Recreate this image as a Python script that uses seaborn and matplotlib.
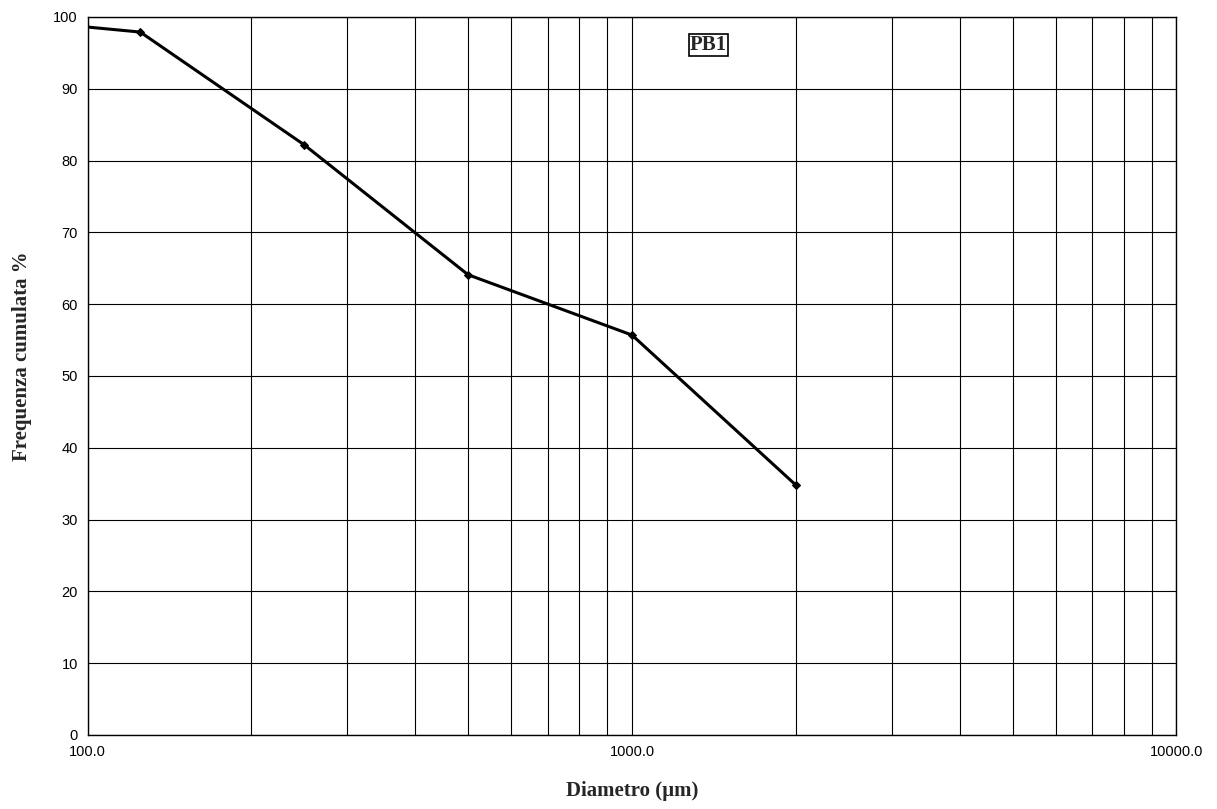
import pandas as pd
import numpy as np
import matplotlib
matplotlib.use("Agg")
import matplotlib.pyplot as plt
import seaborn as sns
from matplotlib.ticker import FixedLocator, FuncFormatter, NullFormatter

# cumulative grain size curve, sample PB1
diametro = [100, 125, 250, 500, 1000, 2000]
frequenza = [98.6, 97.9, 82.2, 64.1, 55.7, 34.8]

df = pd.DataFrame({"diametro": diametro, "frequenza": frequenza})

sns.set_style("white")

fig = plt.figure(figsize=(12.17, 8.09), dpi=100)
ax = fig.add_axes([0.0719, 0.0915, 0.8948, 0.8875])

# no marker on the first point (it sits on the axis edge in the original)
sns.lineplot(data=df, x="diametro", y="frequenza", ax=ax, color="black",
             linewidth=2.2, marker="D", markersize=4, markeredgecolor="black",
             markevery=list(range(1, len(diametro))))

ax.set_xscale("log")
ax.set_xlim(100, 10000)
ax.set_ylim(0, 100)

ax.xaxis.set_major_locator(FixedLocator([100, 1000, 10000]))
ax.xaxis.set_major_formatter(FuncFormatter(lambda v, p: f"{v:.1f}"))
minors = [m * d for d in (100, 1000) for m in range(2, 10)]
ax.xaxis.set_minor_locator(FixedLocator(minors))
ax.xaxis.set_minor_formatter(NullFormatter())
ax.set_yticks(range(0, 101, 10))

ax.grid(True, which="major", axis="both", color="black", linewidth=0.8)
ax.grid(True, which="minor", axis="x", color="black", linewidth=0.8)

for s in ax.spines.values():
    s.set_color("black")
    s.set_linewidth(1)

ax.tick_params(axis="both", which="major", direction="out", length=4, width=0.8,
               labelsize=10.5, colors="black", pad=3)
ax.tick_params(axis="x", which="minor", length=0)
for lbl in ax.get_xticklabels() + ax.get_yticklabels():
    lbl.set_fontfamily("Liberation Sans")

ax.set_xlabel("Diametro (µm)", fontfamily="Liberation Serif", fontweight="bold",
              fontsize=15, labelpad=16)
ax.set_ylabel("Frequenza cumulata %", fontfamily="Liberation Serif", fontweight="bold",
              fontsize=15)
ax.yaxis.set_label_coords(-0.051, 0.528)

ax.text(0.570, 0.961, "PB1", transform=ax.transAxes, ha="center", va="center",
        fontfamily="Liberation Serif", fontweight="bold", fontsize=15,
        bbox=dict(boxstyle="square,pad=0.05", facecolor="white", edgecolor="black",
                  linewidth=1.2))

fig.savefig("out.png", dpi=100)
